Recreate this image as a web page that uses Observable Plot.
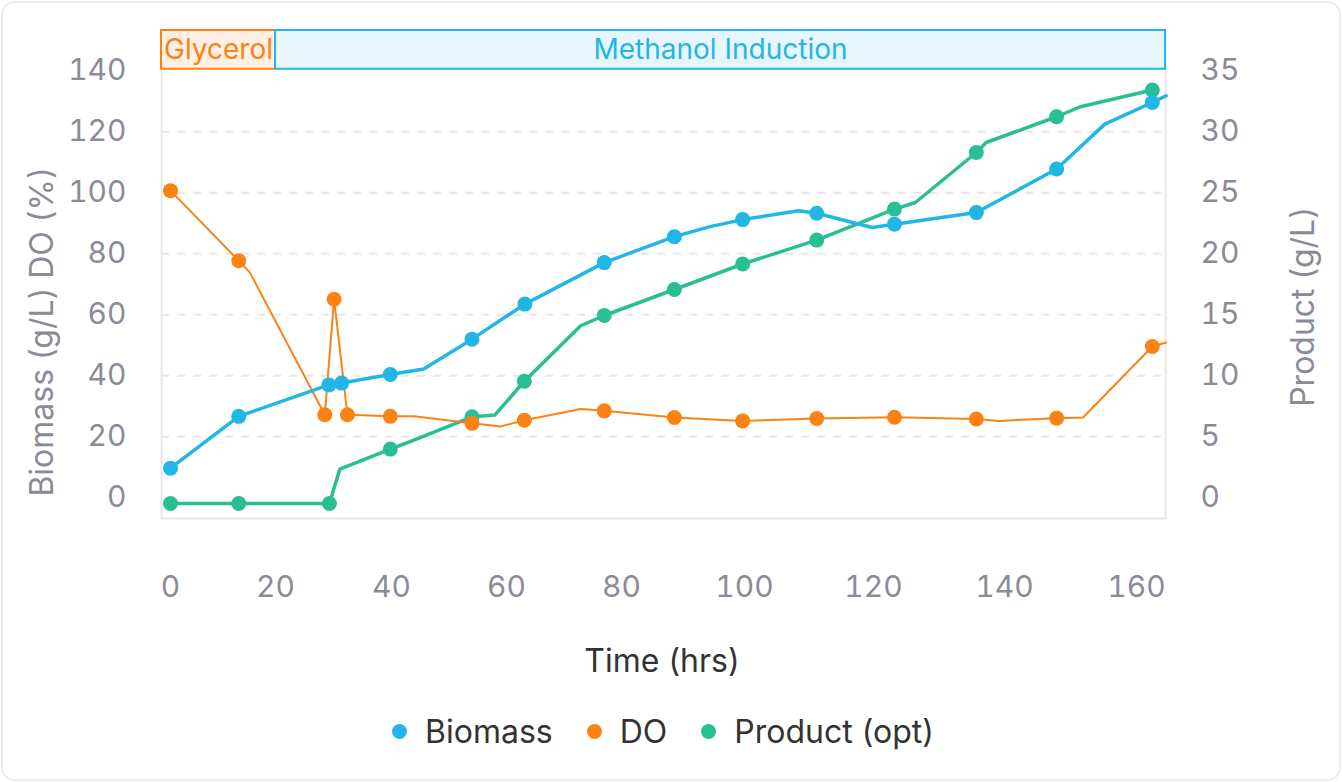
<!DOCTYPE html>
<html><head><meta charset="utf-8">
<script src="https://cdn.jsdelivr.net/npm/d3@7"></script>
<script src="https://cdn.jsdelivr.net/npm/@observablehq/plot@0.6"></script>
<style>
html,body{margin:0;padding:0;background:#fff;}
body{width:1342px;height:782px;position:relative;overflow:hidden;font-family:Inter,sans-serif;}
#card{position:absolute;left:1px;top:1px;width:1340px;height:780px;border:2px solid #ececef;border-radius:14px;box-sizing:border-box;}
#chart{position:absolute;left:0;top:0;}
.title{position:absolute;white-space:nowrap;font-size:32px;transform:translate(-50%,-50%);}
#legend{position:absolute;left:161px;width:1004px;top:708px;height:46px;display:flex;justify-content:center;align-items:center;font-size:32px;color:#333;}
.item{display:flex;align-items:center;margin:0 17px;}
.sw{width:15px;height:15px;border-radius:50%;margin-right:18px;}
</style></head><body>
<div id="card"></div>
<div id="chart"></div>
<div class="title" id="ytitleL" style="left:41px;top:332px;color:#8b8b97;transform:translate(-50%,-50%) rotate(-90deg);">Biomass (g/L) DO (%)</div>
<div class="title" id="ytitleR" style="left:1302px;top:307px;color:#8b8b97;transform:translate(-50%,-50%) rotate(-90deg);">Product (g/L)</div>
<div class="title" id="xtitle" style="left:662px;top:660px;color:#333;">Time (hrs)</div>
<div id="legend"></div>
<script>
// ---- data ----
const seriesNames = ["Biomass", "DO", "Product (opt)"];
const seriesColors = ["#22b6e6", "#fc8213", "#27bf93"];

const bioTime   = [0, 13.0, 29.2, 31.4, 39.8, 45.6, 54.0, 63.2, 77.0, 88.6, 94.4, 99.7, 108.4, 111.2, 119.8, 123.2, 135.7, 147.9, 155.2, 162.4, 164.5];
const bioValue  = [9.7, 26.7, 37.0, 37.6, 40.4, 42.2, 52.0, 63.5, 77.1, 85.6, 88.9, 91.2, 94.1, 93.3, 88.6, 89.7, 93.5, 107.8, 122.5, 129.6, 131.8];
const bioMarker = [1, 1, 1, 1, 1, 0, 1, 1, 1, 1, 0, 1, 0, 1, 0, 1, 1, 1, 0, 1, 0];

const doTime   = [0, 13.0, 15.1, 28.5, 30.1, 32.4, 39.8, 43.9, 54.0, 59.0, 63.1, 72.9, 77.0, 88.6, 99.7, 111.2, 123.2, 135.7, 139.1, 147.9, 151.9, 162.4, 164.5];
const doValue  = [100.7, 77.7, 73.9, 27.2, 65.1, 27.2, 26.7, 26.7, 24.4, 23.4, 25.4, 29.1, 28.5, 26.3, 25.2, 26.0, 26.4, 25.8, 25.2, 26.1, 26.3, 49.6, 50.9];
const doMarker = [1, 1, 0, 1, 1, 1, 1, 0, 1, 0, 1, 0, 1, 1, 1, 1, 1, 1, 0, 1, 0, 1, 0];

const prodTime   = [0, 13.0, 29.3, 31.1, 39.8, 43.9, 54.0, 58.0, 63.1, 72.9, 77.0, 88.6, 99.7, 111.2, 123.2, 126.4, 135.7, 137.2, 147.9, 151.5, 162.4];
const prodValue  = [-0.47, -0.47, -0.47, 2.35, 3.99, 4.73, 6.64, 6.79, 9.55, 14.1, 14.94, 17.07, 19.16, 21.12, 23.66, 24.2, 28.3, 29.12, 31.23, 32.05, 33.42];
const prodMarker = [1, 1, 1, 0, 1, 0, 1, 0, 1, 0, 1, 1, 1, 1, 1, 0, 1, 0, 1, 0, 1];

const xTicks = [0, 20, 40, 60, 80, 100, 120, 140, 160];
const yLeftTicks = [0, 20, 40, 60, 80, 100, 120, 140];
const yRightTicks = [0, 5, 10, 15, 20, 25, 30, 35];
const gridValues = [20, 40, 60, 80, 100, 120];
const productFactor = 4; // left-axis units per g/L

const phaseNames = ["Glycerol", "Methanol Induction"];
const phaseBoundary = 20;
const phaseFill = ["#fff0e6", "#e7f6fc"];
const phaseColor = ["#fc8213", "#22b6e6"];

// ---- scale layout (non-uniform axis as in the reference) ----
const xDomain = [-1.7, 0, 20, 40, 60, 80, 100, 120, 140, 160, 164.4];
const xRange  = [161, 170, 275, 391, 506, 621, 744, 873, 1004, 1136, 1165];
const yDomain = [-6.8, 153.2];
const bandY1 = 140.5;

const xs = d3.scaleLinear().domain(xDomain).range(xRange);
const phaseStart = [xDomain[0], phaseBoundary];
const phaseEnd = [phaseBoundary, xDomain[xDomain.length - 1]];
const phases = phaseNames.map((name, i) => ({
  name, start: phaseStart[i], end: phaseEnd[i],
  mid: xs.invert((xs(phaseStart[i]) + xs(phaseEnd[i])) / 2)
}));

const mk = (t, v, m, s) => t.map((d, i) => ({t: d, v: v[i], m: m[i], s}));
const bio = mk(bioTime, bioValue, bioMarker, 0);
const dox = mk(doTime, doValue, doMarker, 1);
const prod = mk(prodTime, prodValue.map(v => v * productFactor), prodMarker, 2);

const lineMark = (data, i, w) => [
  Plot.line(data, {x: "t", y: "v", stroke: seriesColors[i], strokeWidth: w, strokeLinejoin: "round"}),
  Plot.dot(data.filter(d => d.m), {x: "t", y: "v", r: 7.5, fill: seriesColors[i], stroke: "none"})
];

const chart = Plot.plot({
  width: 1342, height: 700,
  marginLeft: 161, marginRight: 177, marginTop: 30, marginBottom: 182,
  style: {fontFamily: "Inter, sans-serif", fontSize: "30px", background: "transparent", overflow: "visible"},
  x: {type: "linear", domain: xDomain, range: xRange},
  y: {domain: yDomain},
  marks: [
    Plot.ruleY(gridValues, {stroke: "#e6e6e9", strokeWidth: 2, strokeDasharray: "8,8"}),
    Plot.frame({stroke: "#e8e8eb", strokeWidth: 2}),
    ...phases.map((p, i) => Plot.rect([p], {x1: "start", x2: "end", y1: bandY1, y2: yDomain[1], fill: phaseFill[i], stroke: phaseColor[i], strokeWidth: 2})),
    ...phases.map((p, i) => Plot.text([p], {x: "mid", y: (bandY1 + yDomain[1]) / 2, text: "name", fill: phaseColor[i], fontSize: 28, lineAnchor: "middle"})),
    Plot.axisX({ticks: xTicks, tickSize: 0, tickPadding: 57, label: null, color: "#8b8b97", fontSize: 30}),
    Plot.axisY({anchor: "left", ticks: yLeftTicks, tickSize: 0, tickPadding: 35, label: null, color: "#8b8b97", fontSize: 30}),
    Plot.axisY({anchor: "right", ticks: yLeftTicks, tickFormat: d => String(d / productFactor), tickSize: 0, tickPadding: 35, label: null, color: "#8b8b97", fontSize: 30}),
    ...lineMark(prod, 2, 3.5),
    ...lineMark(dox, 1, 2),
    ...lineMark(bio, 0, 3.5)
  ]
});
document.getElementById("chart").appendChild(chart);

const legend = document.getElementById("legend");
seriesNames.forEach((n, i) => {
  const it = document.createElement("div"); it.className = "item";
  const sw = document.createElement("span"); sw.className = "sw"; sw.style.background = seriesColors[i];
  const tx = document.createElement("span"); tx.textContent = n;
  it.appendChild(sw); it.appendChild(tx); legend.appendChild(it);
});
</script></body></html>
